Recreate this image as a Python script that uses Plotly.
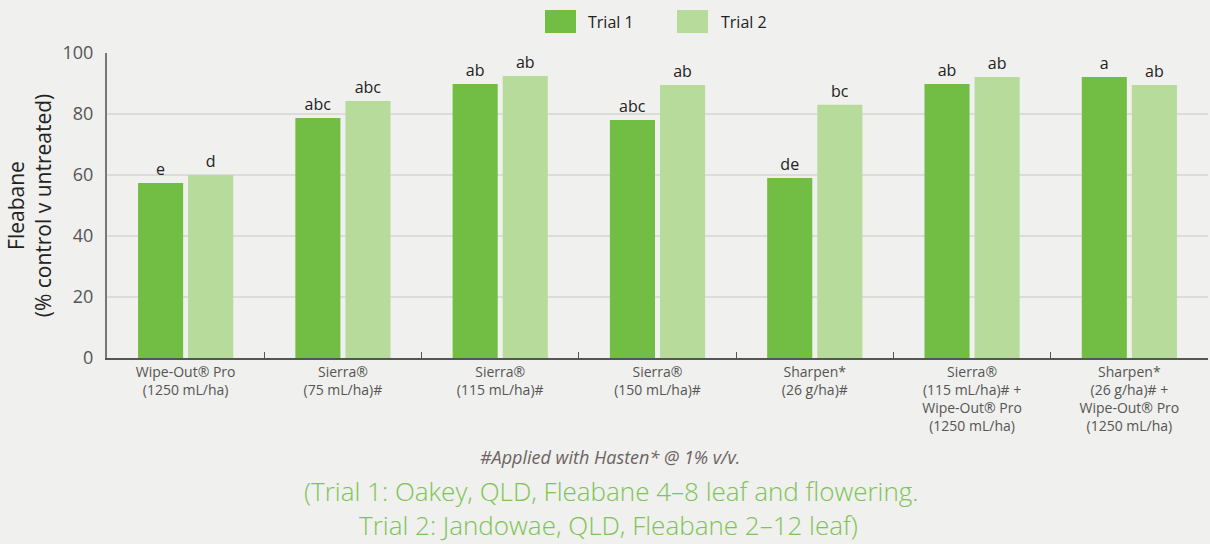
import plotly.graph_objects as go

categories = [
    "Wipe-Out® Pro<br>(1250 mL/ha)",
    "Sierra®<br>(75 mL/ha)#",
    "Sierra®<br>(115 mL/ha)#",
    "Sierra®<br>(150 mL/ha)#",
    "Sharpen*<br>(26 g/ha)#",
    "Sierra®<br>(115 mL/ha)# +<br>Wipe-Out® Pro<br>(1250 mL/ha)",
    "Sharpen*<br>(26 g/ha)# +<br>Wipe-Out® Pro<br>(1250 mL/ha)",
]
trial1 = [57.4, 78.7, 89.8, 78.0, 59.0, 89.8, 92.1]
trial2 = [60.0, 84.3, 92.5, 89.5, 83.0, 92.1, 89.5]
letters1 = ["e", "abc", "ab", "abc", "de", "ab", "a"]
letters2 = ["d", "abc", "ab", "ab", "bc", "ab", "ab"]
series_names = ["Trial 1", "Trial 2"]
colors = ["#72be44", "#b6db9b"]
y_ticks = [0, 20, 40, 60, 80, 100]

FONT = "Open Sans"
W, H = 1210, 544
ml, mr, mt, mb = 107, 2, 53, 186
pw, ph = W - ml - mr, H - mt - mb

def px_x(x):
    return (x - ml) / pw

def px_y(y):
    return (H - mb - y) / ph

fig = go.Figure()
for name, vals, labs, col in zip(series_names, [trial1, trial2], [letters1, letters2], colors):
    fig.add_trace(go.Bar(
        x=categories, y=vals, name=name, marker_color=col, marker_line_width=0,
        text=labs, textposition="outside", cliponaxis=False,
        textfont=dict(family=FONT, size=16, color="#222222"),
        showlegend=False,
    ))

# custom legend
leg = [(545, 576, 586), (677, 708, 719)]
for (x0, x1, tx), name, col in zip(leg, series_names, colors):
    fig.add_shape(type="rect", xref="paper", yref="paper",
                  x0=px_x(x0), x1=px_x(x1), y0=px_y(33), y1=px_y(10),
                  fillcolor=col, line_width=0)
    fig.add_annotation(xref="paper", yref="paper", x=px_x(tx), y=px_y(22),
                       text=name, showarrow=False, xanchor="left", yanchor="middle",
                       font=dict(family=FONT, size=16, color="#222222"))

fig.add_annotation(xref="paper", yref="paper", x=px_x(610), y=px_y(457),
                   text="<i>#Applied with Hasten* @ 1% v/v.</i>", showarrow=False,
                   xanchor="center", yanchor="middle",
                   font=dict(family=FONT, size=18, color="#6b6462"))
fig.add_annotation(xref="paper", yref="paper", x=px_x(611), y=px_y(491),
                   text="(Trial 1: Oakey, QLD, Fleabane 4–8 leaf and flowering.",
                   showarrow=False, xanchor="center", yanchor="middle",
                   font=dict(family=FONT, size=26, color="#7cc454", weight=300))
fig.add_annotation(xref="paper", yref="paper", x=px_x(608), y=px_y(525),
                   text="Trial 2: Jandowae, QLD, Fleabane 2–12 leaf)",
                   showarrow=False, xanchor="center", yanchor="middle",
                   font=dict(family=FONT, size=26, color="#7cc454", weight=300))

fig.update_layout(
    width=W, height=H,
    margin=dict(l=ml, r=mr, t=mt, b=mb),
    paper_bgcolor="#f0f0ee", plot_bgcolor="#f0f0ee",
    barmode="group", bargap=0.363, bargroupgap=0.1,
    font=dict(family=FONT),
    xaxis=dict(
        showline=True, linecolor="#555555", linewidth=1.5,
        ticks="inside", tickson="boundaries", ticklen=6, tickcolor="#555555",
        tickfont=dict(family=FONT, size=14, color="#555555"),
        showgrid=False, tickangle=0,
    ),
    yaxis=dict(
        range=[0, 100], tickvals=y_ticks,
        showline=True, linecolor="#777777", linewidth=2,
        gridcolor="#dcdcdc", gridwidth=1.5, zeroline=False,
        tickfont=dict(family=FONT, size=18, color="#555555"),
        ticklabelstandoff=8,
        title=dict(text="Fleabane<br>(% control v untreated)",
                   font=dict(family=FONT, size=21, color="#222222"), standoff=5),
    ),
)

fig.write_html("out.html", config={"displayModeBar": False},
               post_script="document.body.style.margin='0';document.body.style.overflow='hidden';")
